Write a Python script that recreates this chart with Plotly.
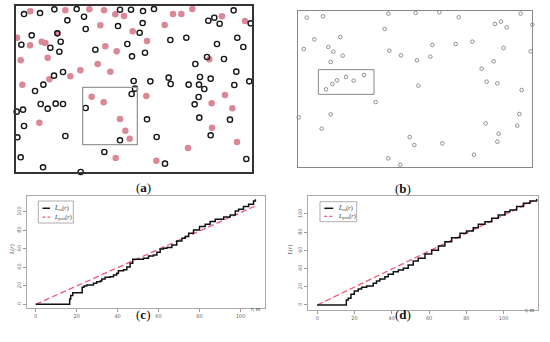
import plotly.graph_objects as go

W, H = 550, 342

# ---------------- Panel (a): field coordinates ----------------
a_black_x = [72,120,163,230,252,202,360,393,429,462,625,643,659,701,752,354,428,257,419,172,
             95,64,151,182,178,286,382,396,435,511,559,651,712,730,621,672,586,709,748,189,
             162,130,105,401,451,506,512,566,600,632,597,613,703,405,395,257,122,143,167,189,
             50,69,596,584,441,598,690,72,360,196,52,470,632,313,62,495,129,242,739]
a_black_y = [42,39,28,27,50,61,29,29,33,27,62,53,71,31,70,78,69,87,98,100,
             106,134,143,125,155,149,132,169,158,120,113,132,113,141,171,177,192,215,244,216,
             227,254,273,243,244,233,252,254,231,236,254,267,255,266,282,324,312,326,311,312,
             335,329,291,313,358,353,359,378,421,408,412,411,406,456,472,491,502,516,477]
a_pink_x = [91,196,268,312,346,372,519,544,577,666,735,301,494,398,172,51,90,125,136,62,
            143,316,350,441,628,293,241,331,211,148,67,439,275,311,675,635,697,360,118,636,
            376,389,711,564,347,469]
a_pink_y = [34,31,28,31,43,48,42,42,27,49,63,76,75,94,100,113,136,125,129,181,
            173,139,154,123,178,192,211,215,229,238,254,288,290,307,285,310,325,357,368,383,
            392,416,426,444,474,482]
a_field = [47, 757, 17, 517]      # x0, x1, y0, y1
a_window = [248, 412, 262, 434]   # x0, x1, y0, y1

# ---------------- Panel (b) ----------------
b_x = [95,144,340,422,493,551,737,772,660,678,695,329,118,196,86,160,175,203,167,343,
       378,426,466,472,542,592,686,767,656,620,153,172,186,213,236,267,430,635,667,740,
       302,71,167,140,632,733,727,671,667,404,418,502,597,340,376,501]
b_y = [53,49,41,39,37,52,41,74,72,65,82,87,118,111,147,141,155,167,186,152,
       166,181,170,135,132,125,144,154,184,206,268,252,241,231,242,225,257,245,250,270,
       306,352,343,386,370,342,377,401,425,411,435,430,464,475,494,501]
b_field = [68, 772, 34, 500]
b_window = [130, 297, 209, 283]

# ---------------- Panel (c) ----------------
c_r = [0,16.5,16.6,17.1,18.1,22.5,22.7,23.6,24.9,26.6,28.2,29.8,31.5,32.3,33.9,36.3,38.0,39.6,40.4,42.9,
       44.5,46.1,47.4,49.4,52.6,55.1,57.5,59.2,60.8,62.4,64.1,66.5,68.9,71.4,73.0,74.7,77.1,80.0,82.8,85.2,
       87.7,91.8,95.0,97.5,99.1,101.5,104.0,106.4,107.3]
c_L = [0,0,5.8,9.4,12.6,12.6,18.4,19.8,20.9,20.9,22.7,24.5,25.2,27.4,29.2,29.9,31.7,33.5,36.4,37.5,
       40.4,44.3,48.6,48.8,49.7,52.3,53.3,56.2,59.8,60.5,61.3,64.1,68.5,71.4,73.2,76.8,80.4,84.0,86.5,89.4,
       91.9,94.4,96.6,100.9,102.7,105.6,108.1,111.7,113.5]
c_pois_r = [0, 108]
c_pois_L = [0, 107]

# ---------------- Panel (d) ----------------
d_r = [0,15.4,15.6,16.6,18.1,19.9,22.0,23.8,26.5,28.3,30.0,31.8,33.6,36.3,38.1,40.8,43.5,46.2,48.8,51.5,
       54.2,57.8,61.4,65.0,68.5,72.1,76.6,80.1,83.7,86.4,90.0,93.6,97.1,100.7,103.4,107.0,110.6,114.1,117.7]
d_L = [0,0,5.5,7.3,11.7,15.4,17.6,19.4,20.9,20.9,23.8,26.4,28.6,31.1,33.7,36.6,38.5,40.3,44.0,48.4,
       51.3,56.0,60.1,64.8,69.6,74.0,78.8,81.3,85.0,88.6,91.6,95.2,98.9,102.6,104.4,108.1,111.7,114.3,116.5]
d_pois_r = [0, 117.5]
d_pois_L = [0, 116]

L_ticks = [0, 20, 40, 60, 80, 100]

fig = go.Figure()

# (a)
fig.add_trace(go.Scatter(x=a_pink_x, y=a_pink_y, mode="markers", xaxis="x", yaxis="y",
                         marker=dict(size=6.5, color="#dc8796"), cliponaxis=False, showlegend=False))
fig.add_trace(go.Scatter(x=a_black_x, y=a_black_y, mode="markers", xaxis="x", yaxis="y",
                         marker=dict(size=5.2, symbol="circle-open", color="#151515", line=dict(width=1.4)),
                         cliponaxis=False, showlegend=False))
# (b)
fig.add_trace(go.Scatter(x=b_x, y=b_y, mode="markers", xaxis="x2", yaxis="y2",
                         marker=dict(size=3.6, symbol="circle-open", color="#777", line=dict(width=0.8)),
                         cliponaxis=False, showlegend=False))
# (c)
fig.add_trace(go.Scatter(x=c_pois_r, y=c_pois_L, mode="lines", xaxis="x3", yaxis="y3",
                         line=dict(color="#f2587c", width=1.3, dash="6px,3px"), showlegend=False))
fig.add_trace(go.Scatter(x=c_r, y=c_L, mode="lines", xaxis="x3", yaxis="y3", line_shape="hv",
                         line=dict(color="#111", width=1.5), showlegend=False))
# (d)
fig.add_trace(go.Scatter(x=d_pois_r, y=d_pois_L, mode="lines", xaxis="x4", yaxis="y4",
                         line=dict(color="#f2587c", width=1.3, dash="6px,3px"), showlegend=False))
fig.add_trace(go.Scatter(x=d_r, y=d_L, mode="lines", xaxis="x4", yaxis="y4", line_shape="hv",
                         line=dict(color="#111", width=1.5), showlegend=False))

def px(x): return x / W
def py(y): return 1 - y / H

hidden = dict(showgrid=False, zeroline=False, showticklabels=False, ticks="")
fig.update_layout(
    width=W, height=H, margin=dict(l=0, r=0, t=0, b=0),
    paper_bgcolor="white", plot_bgcolor="white", hovermode=False,
    xaxis=dict(domain=[px(15.7), px(252.3)], range=[a_field[0], a_field[1]], **hidden,
               showline=True, mirror=True, linecolor="#333", linewidth=1.6),
    yaxis=dict(domain=[py(172.3), py(5.7)], range=[a_field[3], a_field[2]], **hidden,
               showline=True, mirror=True, linecolor="#333", linewidth=1.6),
    xaxis2=dict(domain=[px(297.7), px(532.3)], range=[b_field[0], b_field[1]], anchor="y2", **hidden,
                showline=True, mirror=True, linecolor="#888", linewidth=1.1),
    yaxis2=dict(domain=[py(166.7), py(11.3)], range=[b_field[3], b_field[2]], anchor="x2", **hidden,
                showline=True, mirror=True, linecolor="#888", linewidth=1.1),
)
tickfont = dict(size=5, color="#666", family="DejaVu Sans")
for xa, ya, xd, yd, xr, yr in [("xaxis3", "yaxis3", [26.7, 265], [308.3, 195.7], [-4.4, 112], [-4.3, 117.4]),
                               ("xaxis4", "yaxis4", [308.3, 538.3], [310, 195.7], [-4.8, 118.6], [-5.5, 120.1])]:
    n = xa[-1]
    fig.layout[xa] = dict(domain=[px(xd[0]), px(xd[1])], range=xr, anchor="y" + n,
                          showgrid=False, zeroline=False, showline=True, mirror=True,
                          linecolor="#aaa", linewidth=1, ticks="outside", ticklen=3, tickcolor="#999",
                          tickvals=L_ticks, tickfont=tickfont)
    fig.layout[ya] = dict(domain=[py(yd[0]), py(yd[1])], range=yr, anchor="x" + n,
                          showgrid=False, zeroline=False, showline=True, mirror=True,
                          linecolor="#aaa", linewidth=1, ticks="outside", ticklen=3, tickcolor="#999",
                          tickvals=L_ticks, tickfont=tickfont, tickangle=-90)

shapes = [
    dict(type="rect", xref="x", yref="y", x0=a_window[0], x1=a_window[1], y0=a_window[2], y1=a_window[3],
         line=dict(color="#999", width=1.3)),
    dict(type="rect", xref="x2", yref="y2", x0=b_window[0], x1=b_window[1], y0=b_window[2], y1=b_window[3],
         line=dict(color="#888", width=1)),
]
annotations = []
serif = "Liberation Serif"
for lab, x, y in [("a", 134, 187), ("b", 413, 188), ("c", 134, 324), ("d", 413, 324)]:
    annotations.append(dict(text="(<b>%s</b>)" % lab, x=px(x), y=py(y), xref="paper", yref="paper",
                            showarrow=False, font=dict(family=serif, size=13, color="#111")))

# legends drawn in paper space
for bx0, bx1, by0, by1, lx0, lx1, tx in [(38.3, 73.3, 201, 223, 42.5, 50, 52),
                                        (320, 356.7, 201.7, 221.7, 324.3, 333.3, 336)]:
    shapes.append(dict(type="rect", xref="paper", yref="paper", x0=px(bx0), x1=px(bx1),
                       y0=py(by1), y1=py(by0), line=dict(color="#999", width=0.8)))
    ly1 = by0 + (by1 - by0) * 0.33
    ly2 = by0 + (by1 - by0) * 0.73
    shapes.append(dict(type="line", xref="paper", yref="paper", x0=px(lx0), x1=px(lx1),
                       y0=py(ly1), y1=py(ly1), line=dict(color="#111", width=1.5)))
    shapes.append(dict(type="line", xref="paper", yref="paper", x0=px(lx0), x1=px(lx1),
                       y0=py(ly2), y1=py(ly2), line=dict(color="#f2587c", width=1.2, dash="3px,2px")))
    annotations.append(dict(text="<i>L̂</i><sub>cu</sub>(<i>r</i>)", x=px(tx), y=py(ly1), xref="paper",
                            yref="paper", xanchor="left", showarrow=False,
                            font=dict(family=serif, size=6, color="#333")))
    annotations.append(dict(text="<i>L</i><sub>pois</sub>(<i>r</i>)", x=px(tx), y=py(ly2), xref="paper",
                            yref="paper", xanchor="left", showarrow=False,
                            font=dict(family=serif, size=6, color="#333")))

for x, y in [(7, 257), (290, 258)]:
    annotations.append(dict(text="<i>L</i>(<i>r</i>)", x=px(x), y=py(y), xref="paper", yref="paper",
                            showarrow=False, textangle=-90, font=dict(family=serif, size=6, color="#444")))
for x, y in [(256, 314), (537, 315)]:
    annotations.append(dict(text="<i>r, m</i>", x=px(x), y=py(y), xref="paper", yref="paper",
                            showarrow=False, font=dict(family=serif, size=6, color="#444")))

fig.update_layout(shapes=shapes, annotations=annotations)
fig.write_html("out.html", config={"displayModeBar": False, "staticPlot": True},
               post_script="document.body.style.margin='0px';")
